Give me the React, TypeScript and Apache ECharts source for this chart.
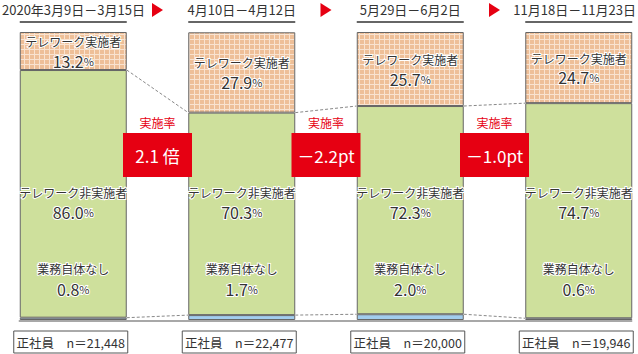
import React, { useEffect, useRef } from "react";
import * as echarts from "echarts";

const periods = ["2020年3月9日－3月15日", "4月10日－4月12日", "5月29日－6月2日", "11月18日－11月23日"];
const teleworkRate = [13.2, 27.9, 25.7, 24.7];
const nonTelework = [86.0, 70.3, 72.3, 74.7];
const noWork = [0.8, 1.7, 2.0, 0.6];
const sampleSizes = ["21,448", "22,477", "20,000", "19,946"];
const changeLabels = ["2.1 倍", "－2.2pt", "－1.0pt"];

const FONT = "'Noto Sans CJK JP', 'Noto Sans', sans-serif";
const TEXT = "#333333";
const RED = "#e60012";

function makePattern() {
  const c = document.createElement("canvas");
  c.width = 5;
  c.height = 5;
  const ctx = c.getContext("2d")!;
  ctx.fillStyle = "#eebf98";
  ctx.fillRect(0, 0, 5, 5);
  ctx.fillStyle = "#f9e3d0";
  ctx.fillRect(4, 0, 1, 5);
  ctx.fillRect(0, 4, 4, 1);
  return c;
}

function measure(text: string, size: number) {
  const c = document.createElement("canvas");
  const ctx = c.getContext("2d")!;
  ctx.font = `${size}px ${FONT}`;
  return ctx.measureText(text).width;
}

export default function App() {
  const ref = useRef<HTMLDivElement>(null);
  useEffect(() => {
    document.body.style.margin = "0";
    const chart = echarts.init(ref.current!, null, { renderer: "svg" });
    const barW = 107;
    const border = { borderColor: "#666666", borderWidth: 1 };
    const W = 638;
    chart.setOption({
      animation: false,
      grid: { left: -11, right: -25, top: 32, bottom: 34, outerBoundsMode: "none", containLabel: false },
      xAxis: { type: "category", data: periods, show: false },
      yAxis: { type: "value", min: 0, max: 100, show: false },
      series: [
        {
          name: "業務自体なし",
          type: "bar",
          stack: "total",
          barWidth: barW,
          data: noWork,
          itemStyle: { color: "#a2cdee", ...border },
        },
        {
          name: "テレワーク非実施者",
          type: "bar",
          stack: "total",
          barWidth: barW,
          data: nonTelework,
          itemStyle: { color: "#cee09c", ...border },
        },
        {
          name: "テレワーク実施者",
          type: "bar",
          stack: "total",
          barWidth: barW,
          data: teleworkRate,
          itemStyle: { color: { image: makePattern(), repeat: "repeat" }, ...border },
          label: {
            show: true,
            position: "inside",
            formatter: (p: any) => `{t|テレワーク実施者}\n{v|${Number(p.value).toFixed(1)}}{p|%}`,
            rich: {
              t: { fontSize: 12, lineHeight: 19, fontFamily: FONT, color: TEXT, textBorderColor: "#fff", textBorderWidth: 2 },
              v: { fontSize: 16, lineHeight: 19, fontFamily: FONT, color: TEXT, textBorderColor: "#fff", textBorderWidth: 2 },
              p: { fontSize: 11, lineHeight: 19, fontFamily: FONT, color: TEXT, textBorderColor: "#fff", textBorderWidth: 2 },
            },
          },
        },
      ],
    });

    const xc = periods.map((_, i) => chart.convertToPixel({ xAxisIndex: 0 }, i) as number);
    const yp = (v: number) => chart.convertToPixel({ yAxisIndex: 0 }, v) as number;
    const half = barW / 2;
    const g: any[] = [];
    const txt = (x: number, y: number, text: string, fontSize: number, fill: string, extra: any = {}) => ({
      type: "text",
      z: 100,
      style: { text, x, y, fontSize, fontFamily: FONT, fill, align: "center", verticalAlign: "middle", ...extra },
    });
    const valueText = (x: number, y: number, v: number) => ({
      type: "text",
      z: 100,
      style: {
        text: `{v|${v.toFixed(1)}}{p|%}`,
        x,
        y,
        align: "center",
        verticalAlign: "middle",
        rich: {
          v: { fontSize: 16, fontFamily: FONT, fill: TEXT, stroke: "#fff", lineWidth: 2 },
          p: { fontSize: 11, fontFamily: FONT, fill: TEXT, stroke: "#fff", lineWidth: 2 },
        },
      },
    });

    // baseline
    g.push({
      type: "line",
      z: 1,
      shape: { x1: xc[0] - half - 1, y1: yp(0) + 1, x2: xc[3] + half, y2: yp(0) + 1 },
      style: { stroke: "#a8a8a8", lineWidth: 2 },
    });

    periods.forEach((p, i) => {
      const hw = measure(p, 13);
      let hx = xc[i];
      if (hx + hw / 2 > W - 2) hx = W - 2 - hw / 2;
      if (hx - hw / 2 < 2) hx = 2 + hw / 2;
      g.push(txt(hx, 9, p, 13, TEXT));
      g.push({
        type: "line",
        z: 100,
        shape: { x1: xc[i] - half, y1: 22, x2: xc[i] + half, y2: 22 },
        style: { stroke: "#333", lineWidth: 1.5 },
      });
      g.push(txt(xc[i], yp(44.3), "テレワーク非実施者", 12, TEXT, { stroke: "#fff", lineWidth: 2 }));
      g.push(valueText(xc[i], yp(37.5), nonTelework[i]));
      g.push(txt(xc[i], yp(17.8), "業務自体なし", 12, TEXT, { stroke: "#fff", lineWidth: 2 }));
      g.push(valueText(xc[i], yp(10.9), noWork[i]));
      const bx = xc[i] + half + 1 - 114;
      g.push({
        type: "rect",
        z: 100,
        shape: { x: bx, y: 331, width: 114, height: 22 },
        style: { fill: "#fff", stroke: "#555", lineWidth: 1 },
      });
      g.push(txt(bx + 57, 342, `正社員　n＝${sampleSizes[i]}`, 12.5, TEXT));
    });

    for (let i = 0; i < periods.length - 1; i++) {
      const gx = (xc[i] + xc[i + 1]) / 2;
      g.push({
        type: "polygon",
        z: 100,
        shape: { points: [[gx - 5.5, 3], [gx + 5.5, 10], [gx - 5.5, 17]] },
        style: { fill: RED },
      });
      const topA = yp(noWork[i] + nonTelework[i]);
      const topB = yp(noWork[i + 1] + nonTelework[i + 1]);
      g.push({
        type: "line",
        z: 50,
        shape: { x1: xc[i] + half, y1: topA, x2: xc[i + 1] - half, y2: topB },
        style: { stroke: "#888", lineWidth: 1, lineDash: [3, 2] },
      });
      g.push({
        type: "line",
        z: 50,
        shape: { x1: xc[i] + half, y1: yp(noWork[i]), x2: xc[i + 1] - half, y2: yp(noWork[i + 1]) },
        style: { stroke: "#888", lineWidth: 1, lineDash: [3, 2] },
      });
      g.push(txt(gx, 122, "実施率", 12, RED));
      g.push({
        type: "rect",
        z: 100,
        shape: { x: gx - 34.5, y: 133, width: 69, height: 44 },
        style: { fill: RED },
      });
      g.push(txt(gx, 155, changeLabels[i], 17, "#fff"));
    }

    chart.setOption({ graphic: g });
    return () => chart.dispose();
  }, []);
  return <div ref={ref} style={{ width: 638, height: 354 }} />;
}
